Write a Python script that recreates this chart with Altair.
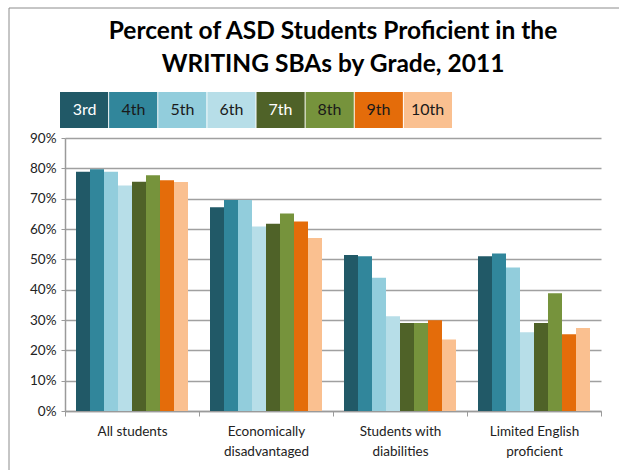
import json
import altair as alt
import pandas as pd

CATEGORIES = ["All students", "Economically disadvantaged",
              "Students with diabilities", "Limited English proficient"]
GRADES = ["3rd", "4th", "5th", "6th", "7th", "8th", "9th", "10th"]
ALL_STUDENTS = [78.9, 79.7, 78.9, 74.3, 75.6, 77.7, 76.1, 75.5]
ECON_DISADV = [67.2, 69.6, 69.6, 60.8, 61.7, 65.1, 62.5, 57.0]
DISABILITIES = [51.4, 51.0, 43.9, 31.2, 29.0, 29.0, 29.9, 23.6]
LIMITED_ENGLISH = [51.0, 51.9, 47.3, 26.0, 29.0, 38.8, 25.3, 27.4]
Y_TICKS = [0, 10, 20, 30, 40, 50, 60, 70, 80, 90]
TITLE_LINES = ["Percent of ASD Students  Proficient in the",
               "WRITING SBAs by Grade, 2011"]
LABEL_LINES = {
    "Economically disadvantaged": ["Economically", "disadvantaged"],
    "Students with diabilities": ["Students with", "diabilities"],
    "Limited English proficient": ["Limited English", "proficient"],
}
COLORS = ["#215967", "#31869b", "#92cddc", "#b7dee8",
          "#4f6228", "#76933c", "#e46c0a", "#fac090"]

series = [ALL_STUDENTS, ECON_DISADV, DISABILITIES, LIMITED_ENGLISH]
rows = []
for cat, vals in zip(CATEGORIES, series):
    for g, v in zip(GRADES, vals):
        rows.append({"category": cat, "grade": g, "value": v})
df = pd.DataFrame(rows)
legend_df = pd.DataFrame({"grade": GRADES})

FONT = "Lato"
color_scale = alt.Scale(domain=GRADES, range=COLORS)
label_expr = "(" + json.dumps(LABEL_LINES).replace('"', "'") + ")[datum.value] || datum.value"

bars = alt.Chart(df).mark_bar().encode(
    x=alt.X("category:N", sort=CATEGORIES,
            scale=alt.Scale(paddingInner=0, paddingOuter=0),
            axis=alt.Axis(title=None, labelAngle=0, tickBand="extent",
                          domainColor="#9a9a9a", domainWidth=1.5,
                          tickColor="#9a9a9a", tickSize=5,
                          labelFont=FONT, labelFontSize=13.5, labelColor="#222",
                          labelPadding=8, labelLineHeight=20,
                          labelExpr=label_expr)),
    xOffset=alt.XOffset("grade:N", sort=GRADES,
                        scale=alt.Scale(paddingInner=0, paddingOuter=0.786)),
    y=alt.Y("value:Q", scale=alt.Scale(domain=[0, 90], nice=False),
            axis=alt.Axis(title=None, values=Y_TICKS,
                          labelExpr="datum.value + '%'",
                          grid=True, gridColor="#a0a0a0", gridWidth=1.5,
                          domainColor="#9a9a9a", domainWidth=1.5,
                          tickColor="#9a9a9a", tickSize=4,
                          labelFont=FONT, labelFontSize=13.5, labelColor="#222",
                          labelPadding=5)),
    color=alt.Color("grade:N", scale=color_scale, legend=None),
)

legend_x = alt.X("grade:N", sort=GRADES,
                 scale=alt.Scale(range=[-5, 387], paddingInner=0.02, paddingOuter=0),
                 axis=None)

legend_boxes = alt.Chart(legend_df).mark_bar(clip=False).encode(
    x=legend_x,
    y=alt.value(-46), y2=alt.value(-10),
    color=alt.Color("grade:N", scale=color_scale, legend=None),
)

legend_text = alt.Chart(legend_df).mark_text(
    font=FONT, fontSize=16, clip=False
).encode(
    x=legend_x,
    y=alt.value(-28),
    text="grade:N",
    color=alt.condition("datum.grade == '3rd' || datum.grade == '7th'",
                        alt.value("white"), alt.value("#1a1a1a")),
)

frame = alt.Chart(pd.DataFrame({"f": [0]})).mark_rect(
    fill="transparent", stroke="#8c8c8c", strokeWidth=1, clip=False
).encode(
    x=alt.value(-56), x2=alt.value(560),
    y=alt.value(-130), y2=alt.value(340),
)

chart = alt.layer(frame, bars, legend_boxes, legend_text).resolve_scale(
    x="independent"
).properties(
    width=536, height=273,
    title=alt.TitleParams(TITLE_LINES, font=FONT, fontSize=24.5, fontWeight="bold",
                          color="black", anchor="middle", frame="group",
                          lineHeight=33, dy=70, offset=0),
    autosize=alt.AutoSizeParams(type="none"),
    padding={"left": 65, "top": 138, "right": 18, "bottom": 59},
).configure_view(stroke=None)

chart.save("out.html", embed_options={"renderer": "svg", "actions": False})
